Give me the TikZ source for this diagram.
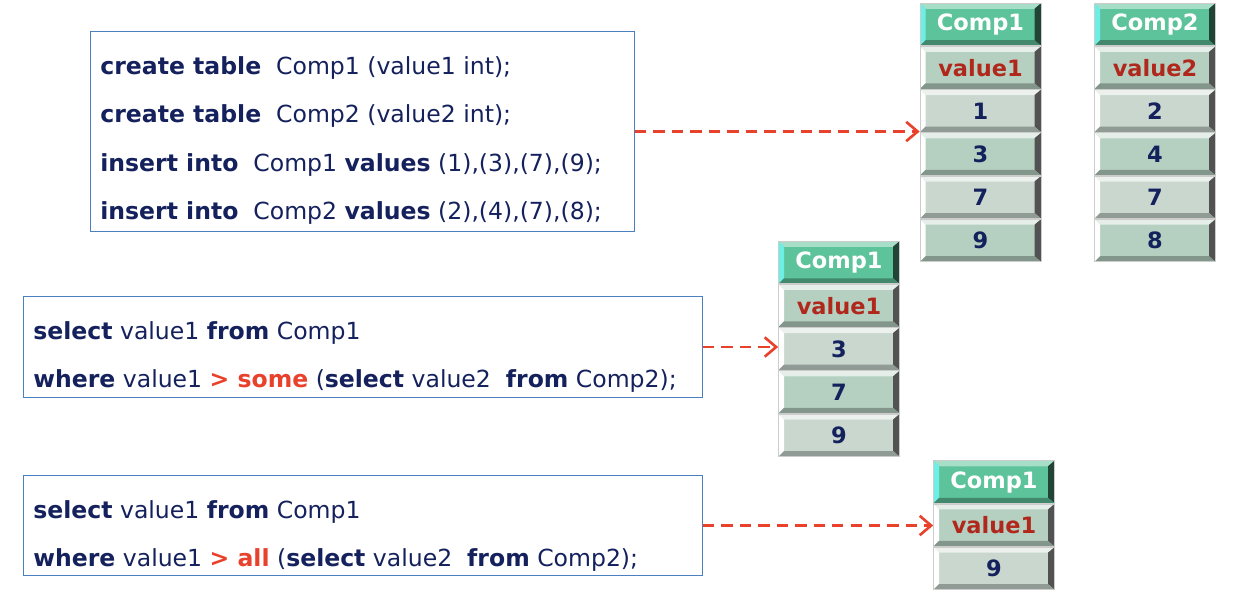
\documentclass[tikz,border=0pt]{standalone}
\usepackage{fontspec}
\setmainfont{DejaVu Sans}
\usepackage{tikz}
\usetikzlibrary{positioning,arrows.meta}
\usepackage{xcolor}

\definecolor{sqlnavy}{HTML}{14215C}
\definecolor{kwred}{HTML}{E8412C}
\definecolor{valred}{HTML}{B0281C}
\definecolor{boxblue}{HTML}{4A7FC0}
\definecolor{headfill}{HTML}{5DC39B}
\definecolor{headleft}{HTML}{6EEFE6}
\definecolor{grayfill}{HTML}{C9D7CF}
\definecolor{greenfill}{HTML}{B5D0C1}

\newcommand\bevel[4]{%
\fill[#1] (path picture bounding box.north west)--(path picture bounding box.north east)--([xshift=-0.13cm,yshift=-0.11cm]path picture bounding box.north east)--([xshift=0.11cm,yshift=-0.11cm]path picture bounding box.north west)--cycle;
\fill[#2] (path picture bounding box.north west)--(path picture bounding box.south west)--([xshift=0.11cm,yshift=0.11cm]path picture bounding box.south west)--([xshift=0.11cm,yshift=-0.11cm]path picture bounding box.north west)--cycle;
\fill[#3] (path picture bounding box.north east)--(path picture bounding box.south east)--([xshift=-0.13cm,yshift=0.11cm]path picture bounding box.south east)--([xshift=-0.13cm,yshift=-0.11cm]path picture bounding box.north east)--cycle;
\fill[#4] (path picture bounding box.south west)--(path picture bounding box.south east)--([xshift=-0.13cm,yshift=0.11cm]path picture bounding box.south east)--([xshift=0.11cm,yshift=0.11cm]path picture bounding box.south west)--cycle;}

\tikzset{
qbox/.style={draw=boxblue,line width=0.6pt,anchor=north west,inner sep=0pt},
sql/.style={anchor=base west,inner sep=0pt,text=sqlnavy,font=\fontsize{13.4}{16}\selectfont},
cell/.style={minimum width=2.42cm,minimum height=0.85cm,inner sep=0pt,draw=black!20,line width=0.4pt,font=\fontsize{12.8}{15}\selectfont\bfseries},
headcell/.style={cell,fill=headfill,text=white,path picture={\bevel{headfill!55!white}{headleft}{headfill!35!black}{headfill!70!black}}},
graycell/.style={cell,fill=grayfill,text=sqlnavy,path picture={\bevel{grayfill!35!white}{white}{black!68}{grayfill!72!black}}},
greencell/.style={cell,fill=greenfill,text=sqlnavy,path picture={\bevel{greenfill!35!white}{white}{black!68}{greenfill!72!black}}},
link/.style={kwred,line width=1.6pt,dash pattern=on 6.5pt off 4pt,-{Straight Barb[length=6.5pt,width=11pt,line width=1.5pt]}}
}

\begin{document}
\begin{tikzpicture}[x=0.02cm,y=-0.02cm]
\useasboundingbox (0,0) rectangle (1256,598);
% statements
\node[qbox,minimum width=10.88cm,minimum height=4cm] (q1) at (90,31) {};
\node[sql] (q1a) at (100,74) {\textbf{create table}\ \ Comp1 (value1 int);};
\node[sql] (q1b) at (100,122.5) {\textbf{create table}\ \ Comp2 (value2 int);};
\node[sql] (q1c) at (100,171) {\textbf{insert into}\ \ Comp1 \textbf{values} (1),(3),(7),(9);};
\node[sql] (q1d) at (100,219.5) {\textbf{insert into}\ \ Comp2 \textbf{values} (2),(4),(7),(8);};

\node[qbox,minimum width=13.58cm,minimum height=2.02cm] (q2) at (23,296) {};
\node[sql] (q2a) at (33,339) {\textbf{select} value1 \textbf{from} Comp1};
\node[sql] (q2b) at (33,387) {\textbf{where} value1 \textbf{\color{kwred}> some} (\textbf{select} value2\ \ \textbf{from} Comp2);};

\node[qbox,minimum width=13.58cm,minimum height=2.0cm] (q3) at (23,475) {};
\node[sql] (q3a) at (33,518) {\textbf{select} value1 \textbf{from} Comp1};
\node[sql] (q3b) at (33,566) {\textbf{where} value1 \textbf{\color{kwred}> all} (\textbf{select} value2\ \ \textbf{from} Comp2);};

% table Comp1
\node[headcell] (t1h) at (980.5,24.5) {Comp1};
\node[greencell,below=0pt of t1h] (t1n) {\color{valred}value1};
\node[graycell,below=0pt of t1n] (t1a) {1};
\node[greencell,below=0pt of t1a] (t1b) {3};
\node[graycell,below=0pt of t1b] (t1c) {7};
\node[greencell,below=0pt of t1c] (t1d) {9};

% table Comp2
\node[headcell] (t2h) at (1155,24.5) {Comp2};
\node[greencell,below=0pt of t2h] (t2n) {\color{valred}value2};
\node[graycell,below=0pt of t2n] (t2a) {2};
\node[greencell,below=0pt of t2a] (t2b) {4};
\node[graycell,below=0pt of t2b] (t2c) {7};
\node[greencell,below=0pt of t2c] (t2d) {8};

% result of some
\node[headcell] (t3h) at (839,262.5) {Comp1};
\node[greencell,below=0pt of t3h] (t3n) {\color{valred}value1};
\node[graycell,below=0pt of t3n] (t3a) {3};
\node[greencell,below=0pt of t3a] (t3b) {7};
\node[graycell,below=0pt of t3b] (t3c) {9};

% result of all
\node[headcell] (t4h) at (994,482) {Comp1};
\node[greencell,below=0pt of t4h] (t4n) {\color{valred}value1};
\node[graycell,below=0pt of t4n] (t4a) {9};

% arrows
\draw[link] (q1.east) -- (q1.east -| t1a.west);
\draw[link] (q2.east) -- (q2.east -| t3a.west);
\draw[link] (q3.east) -- (q3.east -| t4n.west);
\end{tikzpicture}
\end{document}
